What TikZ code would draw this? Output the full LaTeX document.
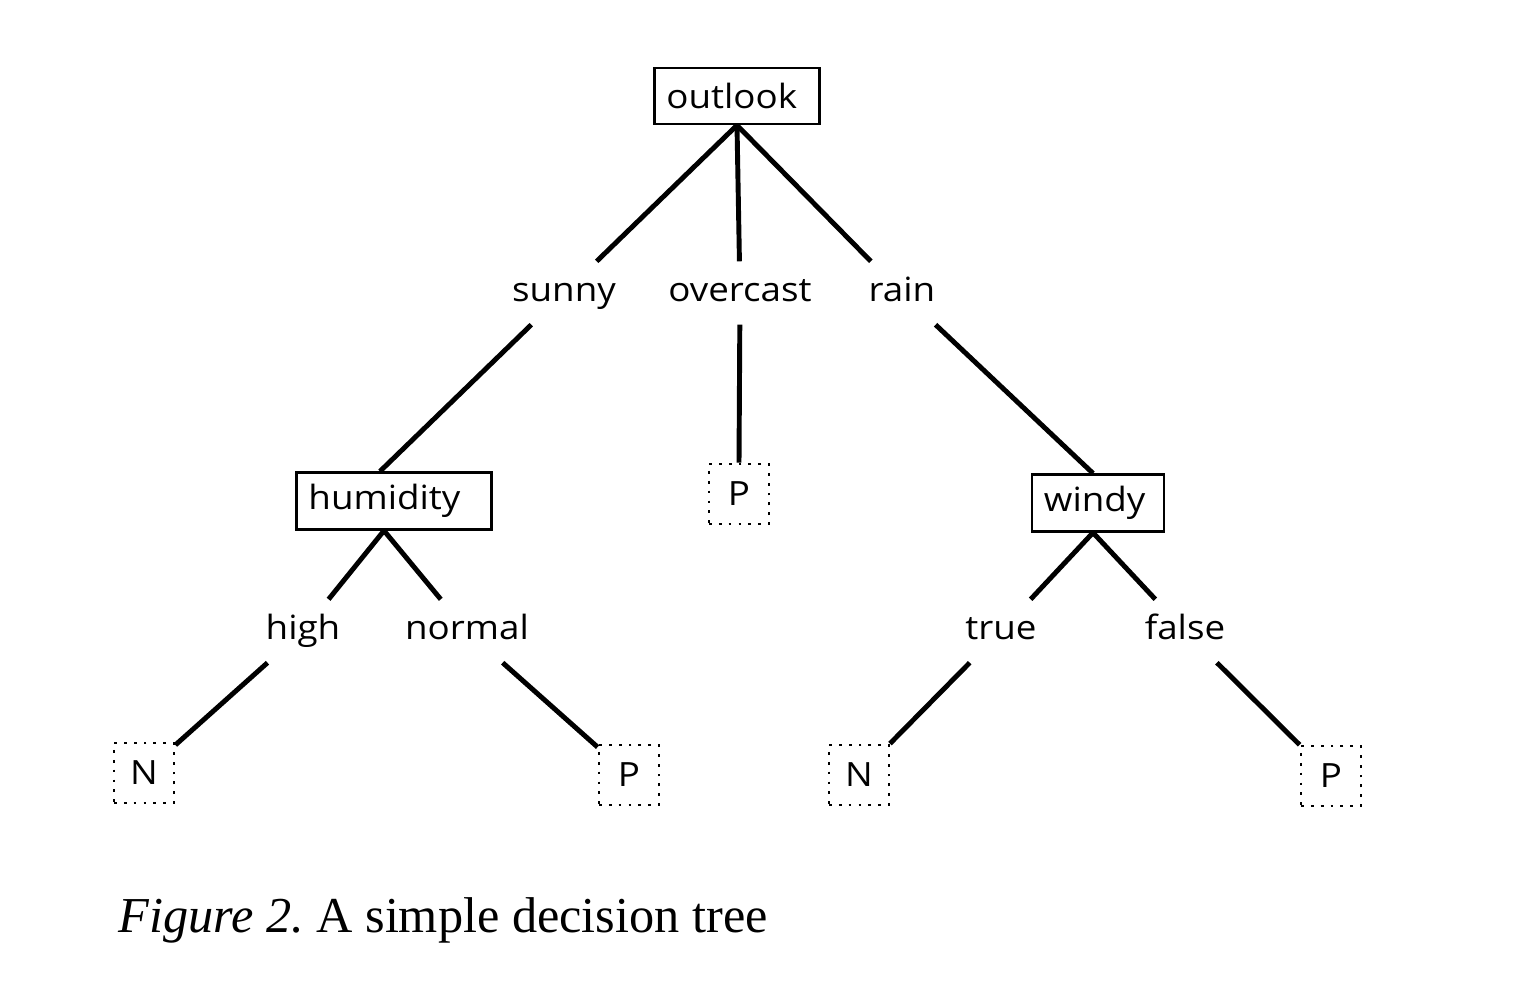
\documentclass[tikz,border=0pt]{standalone}
\usepackage{fontspec}
\setmainfont{Liberation Serif}
\newfontfamily\treefont[FakeStretch=1.1]{Open Sans}

\begin{document}
\begin{tikzpicture}[x=0.01cm,y=-0.01cm,
    treetext/.style={font=\treefont\fontsize{9.5}{11}\selectfont},
    attr/.style={draw,line width=0.7pt,treetext,minimum height=0.56cm,
        inner xsep=0.12cm,align=left,text width=#1},
    val/.style={treetext,inner xsep=0.1cm,inner ysep=0.15cm,
        text height=0.24cm,text depth=0.08cm},
    leaf/.style={draw,dotted,line width=0.8pt,treetext,minimum size=0.6cm,inner sep=0pt},
    branch/.style={line width=1.4pt}]
    \useasboundingbox (0,0) rectangle (1521,1000);

    % attribute tests
    \node [attr=1.41cm] (outlook)  at (737,96)  {outlook};
    \node [attr=1.71cm] (humidity) at (394,501) {humidity};
    \node [attr=1.08cm] (windy)    at (1098,503) {windy};
    % the branches meet the tests below the words, not the box middle
    \coordinate (humtop) at ([xshift=-0.14cm]humidity.north);
    \coordinate (humbot) at ([xshift=-0.1cm]humidity.south);
    \coordinate (windtop) at ([xshift=-0.05cm]windy.north);
    \coordinate (windbot) at ([xshift=-0.05cm]windy.south);

    % attribute values
    \node [val] (sunny)    at (564,293) {sunny};
    \node [val] (overcast) at (740,293) {overcast};
    \node [val] (rain)     at (902,293) {rain};
    \node [val] (high)     at (303,631) {high};
    \node [val] (normal)   at (467,631) {normal};
    \node [val] (true)     at (1001,631) {true};
    \node [val] (false)    at (1185,631) {false};

    % classes
    \node [leaf] (pmid) at (739,494)  {P};
    \node [leaf] (n1)   at (144,773)  {N};
    \node [leaf] (p1)   at (629,775)  {P};
    \node [leaf] (n2)   at (859,775)  {N};
    \node [leaf] (p2)   at (1331,776) {P};

    \foreach \a/\b in {outlook.south/sunny, outlook.south/overcast, outlook.south/rain,
                       sunny/humtop, overcast/pmid.north, rain/windtop,
                       humbot/high, humbot/normal, windbot/true, windbot/false,
                       high/n1, normal/p1, true/n2, false/p2} {
        \draw [branch] (\a) -- (\b);
    }

    \node [anchor=base west,inner sep=0pt,font=\fontsize{14.3}{17}\selectfont] (caption)
        at (118,932) {\textit{Figure 2.}\ A simple decision tree};
\end{tikzpicture}
\end{document}
